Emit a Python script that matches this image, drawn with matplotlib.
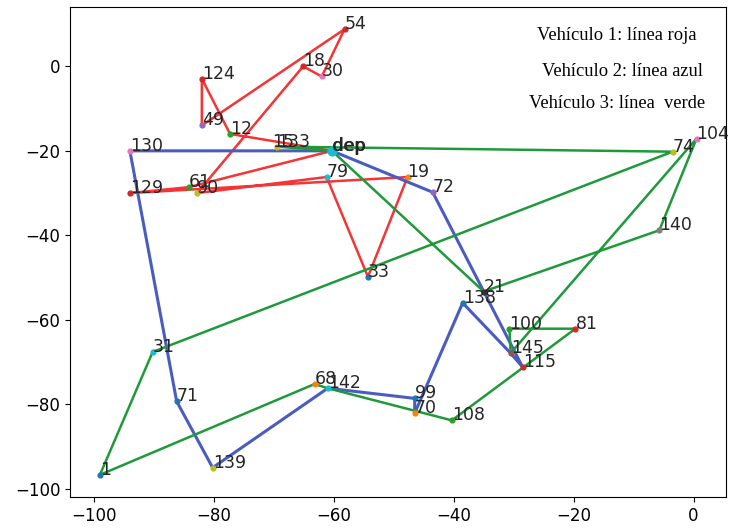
import matplotlib
matplotlib.use('Agg')
import matplotlib.pyplot as plt

# node coordinates
nodes = ['dep', '54', '18', '30', '124', '49', '12', '133', '79', '19', '72', '33',
         '129', '61', '90', '130', '71', '31', '1', '139', '68', '142', '99', '70',
         '108', '138', '21', '100', '145', '115', '81', '140', '74', '104']
xs = [-60.3, -58.2, -65.1, -62.0, -82.0, -82.0, -77.3, -69.5, -61.2, -47.7, -43.5, -54.3,
      -94.0, -84.2, -82.8, -94.0, -86.2, -90.2, -99.0, -80.2, -63.2, -61.0, -46.5, -46.5,
      -40.3, -38.5, -35.0, -30.7, -30.5, -28.5, -19.7, -5.7, -3.5, 0.5]
ys = [-20.0, 8.8, 0.0, -2.4, -2.9, -14.0, -16.0, -19.0, -26.2, -26.2, -29.8, -49.8,
      -30.0, -28.6, -30.0, -20.0, -79.3, -67.6, -96.7, -95.0, -75.2, -76.2, -78.6, -82.1,
      -83.8, -56.0, -53.3, -62.1, -67.9, -71.2, -62.1, -38.8, -20.2, -17.1]
node_colors = ['tab:cyan', 'tab:red', 'tab:red', 'tab:pink', 'tab:red', 'tab:purple',
               'tab:green', 'tab:olive', 'tab:cyan', 'tab:orange', 'tab:purple', 'tab:blue',
               'tab:red', 'tab:green', 'tab:olive', 'tab:pink', 'tab:blue', 'tab:cyan',
               'tab:blue', 'tab:olive', 'tab:orange', 'tab:cyan', 'tab:blue', 'tab:orange',
               'tab:green', 'tab:blue', '#333333', 'tab:green', 'tab:brown', 'tab:red',
               'tab:red', 'tab:gray', 'tab:olive', 'tab:pink']

# routes of the three vehicles
route_red = ['dep', '12', '124', '49', '54', '30', '18', '90', '79', '33', '19', '129', '61', 'dep']
route_blue = ['dep', '72', '115', '145', '138', '70', '99', '142', '139', '71', '130', 'dep']
route_green = ['dep', '21', '140', '104', '145', '100', '81', '108', '142', '68', '1', '31',
               '74', '133', 'dep']

legend_lines = ['Vehículo 1: línea roja', 'Vehículo 2: línea azul', 'Vehículo 3: línea  verde']

pos = dict(zip(nodes, zip(xs, ys)))

fig = plt.figure(figsize=(7.3, 5.3), dpi=100)
ax = fig.add_axes([0.096, 0.062, 0.899, 0.925])

for route, col, lw in [(route_red, '#f53535', 1.8),
                       (route_blue, '#4a5cc0', 2.2),
                       (route_green, '#1f9a3a', 1.8)]:
    rx = [pos[n][0] for n in route]
    ry = [pos[n][1] for n in route]
    ax.plot(rx, ry, color=col, linewidth=lw, zorder=2)

# node markers and labels
for n, x, y, c in zip(nodes, xs, ys, node_colors):
    size = 40 if n == 'dep' else 12
    ax.scatter(x, y, s=size, color=c, zorder=3)
    ax.text(x, y, n, fontsize=12.5, color='#262626', zorder=4)
# dep label looks heavier in the original
ax.text(pos['dep'][0] + 0.1, pos['dep'][1], 'dep', fontsize=12.5, color='#262626', zorder=4)
ax.text(pos['133'][0] - 0.7, pos['133'][1], '15', fontsize=12.5, color='#262626', zorder=4)

ax.set_xticks([-100, -80, -60, -40, -20, 0])
ax.set_yticks([-100, -80, -60, -40, -20, 0])
ax.tick_params(labelsize=12)

# the legend was typed as plain text
fig.text(617 / 730, 1 - 35 / 530, legend_lines[0], ha='center', va='center',
         family='Liberation Serif', fontsize=13.3)
fig.text(622 / 730, 1 - 71 / 530, legend_lines[1], ha='center', va='center',
         family='Liberation Serif', fontsize=13.3)
fig.text(617 / 730, 1 - 103 / 530, legend_lines[2], ha='center', va='center',
         family='Liberation Serif', fontsize=13.3)

fig.savefig('out.png', dpi=100)
